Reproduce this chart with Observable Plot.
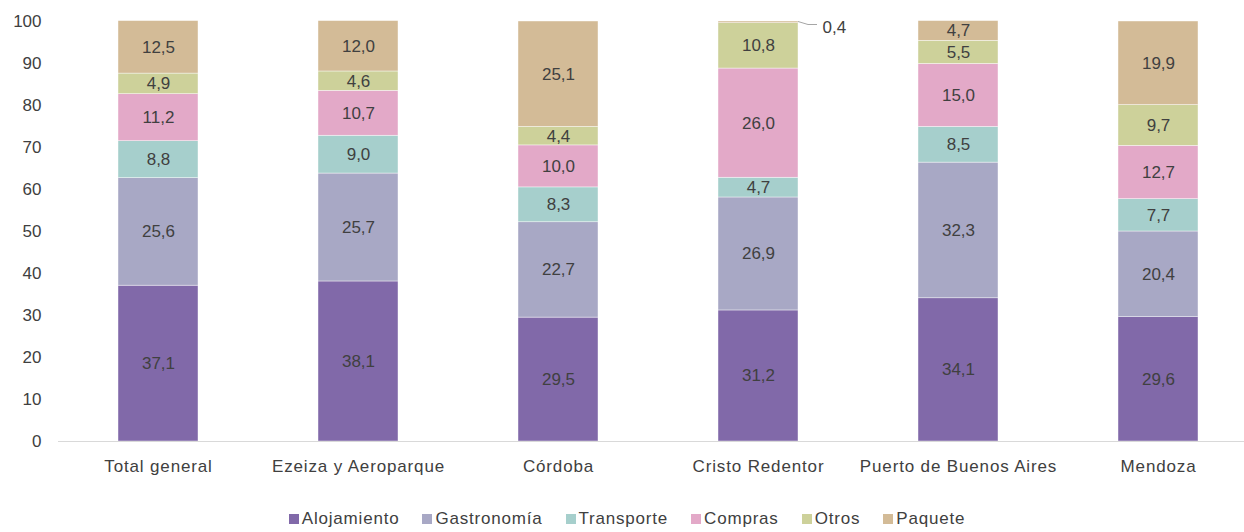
<!DOCTYPE html>
<html>
<head>
<meta charset="utf-8">
<script src="https://cdn.jsdelivr.net/npm/d3@7"></script>
<script src="https://cdn.jsdelivr.net/npm/@observablehq/plot@0.6"></script>
<style>
  html, body { margin: 0; padding: 0; background: #fff; }
  body { width: 1244px; height: 532px; overflow: hidden; font-family: "Liberation Sans", Arial, sans-serif; }
  #legend { display: flex; justify-content: center; gap: 23px; font-size: 17px; letter-spacing: 0.8px; color: #404040; height: 27px; align-items: center; padding-left: 10px; }
  #legend span.item { display: flex; align-items: center; }
  #legend span.sw { width: 10px; height: 10px; display: inline-block; margin-right: 3px; }
</style>
</head>
<body>
<div id="chart"></div>
<div id="legend"></div>
<script>
const categories = ["Total general", "Ezeiza y Aeroparque", "Córdoba", "Cristo Redentor", "Puerto de Buenos Aires", "Mendoza"];
const series = ["Alojamiento", "Gastronomía", "Transporte", "Compras", "Otros", "Paquete"];
const colors = ["#8169a9", "#a8a8c5", "#a6cfcc", "#e3a9c8", "#cdd19a", "#d3bb97"];
const alojamiento = [37.1, 38.1, 29.5, 31.2, 34.1, 29.6];
const gastronomia = [25.6, 25.7, 22.7, 26.9, 32.3, 20.4];
const transporte  = [8.8, 9.0, 8.3, 4.7, 8.5, 7.7];
const compras     = [11.2, 10.7, 10.0, 26.0, 15.0, 12.7];
const otros       = [4.9, 4.6, 4.4, 10.8, 5.5, 9.7];
const paquete     = [12.5, 12.0, 25.1, 0.4, 4.7, 19.9];
const yTicks = [0, 10, 20, 30, 40, 50, 60, 70, 80, 90, 100];

const seriesValues = [alojamiento, gastronomia, transporte, compras, otros, paquete];
const data = [];
categories.forEach((c, i) => {
  series.forEach((s, j) => data.push({cat: c, serie: s, value: seriesValues[j][i]}));
});
const fmt = v => v.toFixed(1).replace(".", ",");
const small = data.filter(d => d.value < 1);

const textColor = "#404040";

const leader = (index, scales, values, dimensions) => {
  const g = document.createElementNS("http://www.w3.org/2000/svg", "g");
  const bw = scales.x.bandwidth ? scales.x.bandwidth() : 80;
  small.forEach(d => {
    const x0 = scales.x(d.cat) + bw;
    const y0 = scales.y(100);
    const p = document.createElementNS("http://www.w3.org/2000/svg", "path");
    p.setAttribute("d", `M${x0},${y0 + 0.5} L${x0 + 10},${y0 + 3.5} L${x0 + 19},${y0 + 3.5}`);
    p.setAttribute("fill", "none");
    p.setAttribute("stroke", "#a6a6a6");
    p.setAttribute("stroke-width", "1");
    g.appendChild(p);
  });
  return g;
};

const chart = Plot.plot({
  width: 1244,
  height: 505,
  marginTop: 21,
  marginBottom: 64,
  marginLeft: 58,
  marginRight: 0,
  style: { fontFamily: "Liberation Sans, Arial, sans-serif", fontSize: "17px", color: textColor, background: "white" },
  x: { domain: categories, range: [58, 1258], paddingInner: 0.6, paddingOuter: 0.3, label: null, tickSize: 0, tickPadding: 18 },
  y: { domain: [0, 100], ticks: yTicks, label: null, tickSize: 0, tickPadding: 17, tickFormat: d => String(d) },
  color: { domain: series, range: colors },
  marks: [
    Plot.barY(data, { x: "cat", y: "value", fill: "serie", order: series, stroke: "white", strokeWidth: 0.6, strokeOpacity: 0.7 }),
    Plot.ruleY([0], { stroke: "#d9d9d9", strokeWidth: 1.2 }),
    Plot.text(data, Plot.stackY({ x: "cat", y: "value", z: "serie", order: series, text: d => d.value >= 1 ? fmt(d.value) : null, fill: textColor, fontSize: 17 })),
    Plot.text(small, { x: "cat", y: () => 100, text: d => fmt(d.value), textAnchor: "start", dx: 64, dy: 6, fill: textColor, fontSize: 17 }),
    leader
  ]
});
chart.querySelectorAll('[aria-label="x-axis tick label"] text').forEach(t => t.setAttribute("letter-spacing", "0.85"));
document.getElementById("chart").appendChild(chart);

const legend = document.getElementById("legend");
series.forEach((s, j) => {
  const it = document.createElement("span");
  it.className = "item";
  const sw = document.createElement("span");
  sw.className = "sw";
  sw.style.background = colors[j];
  it.appendChild(sw);
  it.appendChild(document.createTextNode(s));
  legend.appendChild(it);
});
</script>
</body>
</html>
